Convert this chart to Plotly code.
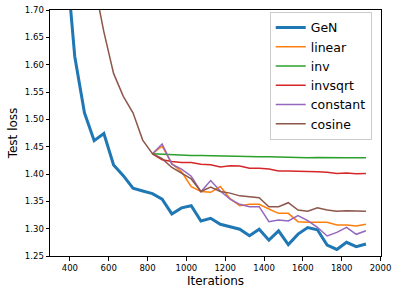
import plotly.graph_objects as go

iterations = [375 + 50 * i for i in range(32)]
sched_iterations = iterations[9:]

gen = [1.82, 1.615, 1.512, 1.461, 1.474, 1.4165, 1.397, 1.374, 1.369, 1.364, 1.354, 1.327,
       1.338, 1.342, 1.314, 1.319, 1.308, 1.304, 1.299, 1.287, 1.299, 1.279, 1.296, 1.271,
       1.290, 1.302, 1.298, 1.270, 1.262, 1.275, 1.267, 1.272]
cosine = [2.05, 1.93, 1.83, 1.75, 1.660, 1.584, 1.542, 1.512, 1.462,
          1.437, 1.428, 1.412, 1.401, 1.391, 1.368, 1.376, 1.368, 1.365, 1.360, 1.3585,
          1.3567, 1.340, 1.340, 1.3475, 1.334, 1.332, 1.338, 1.334, 1.332, 1.333, 1.332, 1.332]
linear = [1.437, 1.451, 1.419, 1.404, 1.377, 1.368, 1.3665, 1.377, 1.355, 1.342, 1.3445,
          1.3445, 1.336, 1.328, 1.328, 1.3128, 1.3116, 1.3116, 1.3116, 1.3067, 1.3067, 1.3049, 1.308]
inv = [1.437, 1.436, 1.436, 1.434, 1.434, 1.434, 1.4335, 1.433, 1.432, 1.432, 1.432, 1.4315,
       1.4315, 1.431, 1.430, 1.4295, 1.4295, 1.430, 1.4295, 1.4295, 1.4295, 1.4295, 1.4295]
invsqrt = [1.437, 1.426, 1.423, 1.421, 1.421, 1.418, 1.417, 1.413, 1.415, 1.4147, 1.4104,
           1.4104, 1.409, 1.4055, 1.4055, 1.4055, 1.4043, 1.4043, 1.403, 1.401, 1.4018, 1.4006, 1.401]
constant = [1.437, 1.455, 1.418, 1.409, 1.396, 1.3677, 1.388, 1.369, 1.354, 1.3445, 1.3403,
            1.3403, 1.3128, 1.3159, 1.314, 1.3238, 1.3146, 1.3025, 1.2866, 1.2933, 1.3025, 1.2897, 1.2963]

x_ticks = [400, 600, 800, 1000, 1200, 1400, 1600, 1800, 2000]
y_ticks = [1.25, 1.30, 1.35, 1.40, 1.45, 1.50, 1.55, 1.60, 1.65, 1.70]

series = [
    ("GeN", iterations, gen, "#1f77b4", 3),
    ("linear", sched_iterations, linear, "#ff7f0e", 1.5),
    ("inv", sched_iterations, inv, "#2ca02c", 1.5),
    ("invsqrt", sched_iterations, invsqrt, "#d62728", 1.5),
    ("constant", sched_iterations, constant, "#9467bd", 1.5),
    ("cosine", iterations, cosine, "#8c564b", 1.5),
]

fig = go.Figure()
for name, xs, ys, color, w in series:
    fig.add_trace(go.Scatter(x=xs, y=ys, mode="lines", name=name,
                             line=dict(color=color, width=w)))

axis_common = dict(showline=True, linecolor="black", linewidth=1, mirror=True,
                   ticks="outside", ticklen=3.5, tickwidth=1, tickcolor="black",
                   showgrid=False, zeroline=False, automargin=False,
                   tickfont=dict(family="DejaVu Sans", size=8.5, color="black"))

fig.update_layout(
    width=399, height=295,
    margin=dict(l=50, r=18, t=10, b=39),
    paper_bgcolor="white", plot_bgcolor="white",
    font=dict(family="DejaVu Sans", color="black"),
    xaxis=dict(range=[297.5, 2002.5], tickvals=x_ticks, ticktext=[str(v) for v in x_ticks],
               title=dict(text="Iterations", font=dict(size=12, family="DejaVu Sans"), standoff=4),
               **axis_common),
    yaxis=dict(range=[1.25, 1.70], tickvals=y_ticks, ticktext=[f"{v:.2f}" for v in y_ticks],
               title=dict(text="Test loss", font=dict(size=12, family="DejaVu Sans"), standoff=4),
               **axis_common),
    legend=dict(x=0.972, y=0.992, xanchor="right", yanchor="top",
                bgcolor="rgba(255,255,255,0.8)", bordercolor="#cccccc", borderwidth=1,
                font=dict(size=12.5, family="DejaVu Sans", color="black"),
                itemwidth=30, tracegroupgap=0),
    showlegend=True,
)

fig.write_html("out.html", config={"displayModeBar": False},
               post_script="document.body.style.margin='0';")
